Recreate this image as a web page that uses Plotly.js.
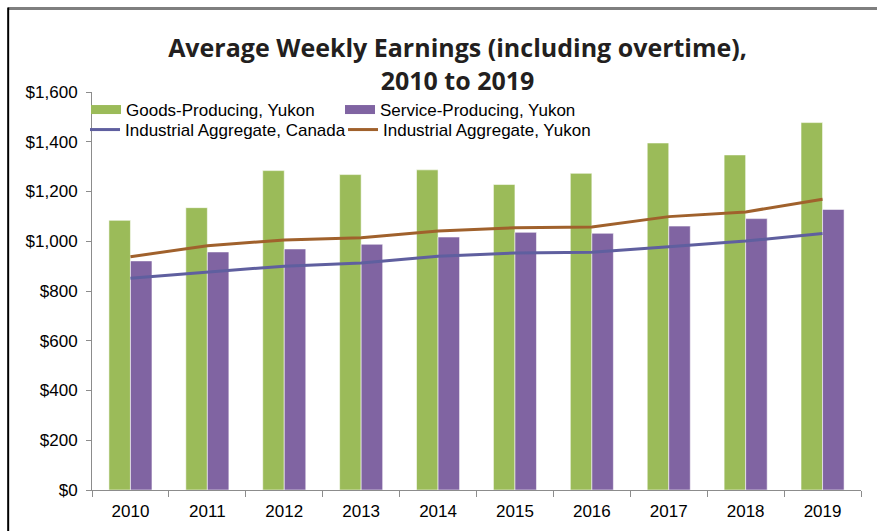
<!DOCTYPE html>
<html>
<head>
<meta charset="utf-8">
<script src="https://cdn.plot.ly/plotly-3.0.1.min.js"></script>
<style>
html,body{margin:0;padding:0;background:#fff;}
#chart{width:877px;height:531px;}
</style>
</head>
<body>
<div id="chart"></div>
<script>
const years = ["2010","2011","2012","2013","2014","2015","2016","2017","2018","2019"];
const goodsYukon = [1084, 1135, 1284, 1268, 1287, 1228, 1273, 1395, 1347, 1477];
const serviceYukon = [921, 957, 969, 988, 1017, 1036, 1032, 1061, 1091, 1128];
const industrialCanada = [851, 877, 900, 913, 940, 953, 956, 978, 1001, 1031];
const industrialYukon = [938, 982, 1005, 1014, 1041, 1054, 1057, 1099, 1118, 1169];
const yTickVals = [0, 200, 400, 600, 800, 1000, 1200, 1400, 1600];
const yTickText = ["$0","$200","$400","$600","$800","$1,000","$1,200","$1,400","$1,600"];

const GREEN = "#9BBB59", PURPLE = "#8064A2", BLUE = "#5F5F9F", BROWN = "#A0612C";
const barEdge = {color:"rgba(255,255,255,0.55)", width:1};

const traces = [
  {type:"bar", name:"Goods-Producing, Yukon", x:years, y:goodsYukon,
   marker:{color:GREEN, line:barEdge}, showlegend:false},
  {type:"bar", name:"Service-Producing, Yukon", x:years, y:serviceYukon,
   marker:{color:PURPLE, line:barEdge}, showlegend:false},
  {type:"scatter", mode:"lines", name:"Industrial Aggregate, Canada", x:years, y:industrialCanada,
   line:{color:BLUE, width:3}, legend:"legend3"},
  {type:"scatter", mode:"lines", name:"Industrial Aggregate, Yukon", x:years, y:industrialYukon,
   line:{color:BROWN, width:3}, legend:"legend4"},
  // legend swatches for the bar series (wide rectangles as in the reference)
  {type:"scatter", mode:"lines", name:"Goods-Producing, Yukon", x:[null], y:[null],
   line:{color:GREEN, width:9}, legend:"legend", hoverinfo:"skip"},
  {type:"scatter", mode:"lines", name:"Service-Producing, Yukon", x:[null], y:[null],
   line:{color:PURPLE, width:9}, legend:"legend2", hoverinfo:"skip"}
];

function leg(x, y) {
  return {orientation:"v", xanchor:"left", yanchor:"middle", xref:"paper", yref:"paper", x:x, y:y,
    bgcolor:"rgba(0,0,0,0)", borderwidth:0, itemwidth:30,
    font:{family:"Liberation Sans, Arial, sans-serif", size:17, color:"#000"}};
}

const layout = {
  width:877, height:531,
  margin:{l:92, r:16, t:92, b:41},
  paper_bgcolor:"#fff", plot_bgcolor:"#fff",
  title:{text:"Average Weekly Earnings (including overtime),<br>2010 to 2019",
    x:0.5217, xref:"container", xanchor:"center", y:0.892, yref:"container", yanchor:"top",
    font:{family:"Open Sans, sans-serif", size:25, color:"#231F20", weight:700}},
  barmode:"group", bargap:0.44, bargroupgap:0,
  showlegend:true,
  legend:leg(-0.0078, 0.9548),
  legend2:leg(0.3225, 0.9548),
  legend3:leg(-0.0091, 0.9045),
  legend4:leg(0.3264, 0.9045),
  xaxis:{type:"category", showgrid:false, zeroline:false, showline:true, linecolor:"#8C8C8C", linewidth:1,
    ticks:"outside", tickson:"boundaries", ticklen:6, tickcolor:"#8C8C8C", ticklabelstandoff:6,
    tickfont:{family:"Liberation Sans, Arial, sans-serif", size:17, color:"#000"}},
  yaxis:{range:[0,1600], tickvals:yTickVals, ticktext:yTickText, showgrid:false, zeroline:false,
    showline:true, linecolor:"#8C8C8C", linewidth:1, ticks:"outside", ticklen:5, tickcolor:"#8C8C8C",
    ticklabelstandoff:5,
    tickfont:{family:"Liberation Sans, Arial, sans-serif", size:17, color:"#000"}},
  shapes:[
    {type:"line", xref:"paper", yref:"paper", x0:-0.109, x1:1.021, y0:1.21, y1:1.21, line:{color:"#7F7F7F", width:3}},
    {type:"line", xref:"paper", yref:"paper", x0:-0.109, x1:-0.109, y0:1.212, y1:-0.11, line:{color:"#000000", width:2}}
  ]
};

Plotly.newPlot("chart", traces, layout, {displayModeBar:false, staticPlot:true});
</script>
</body>
</html>
